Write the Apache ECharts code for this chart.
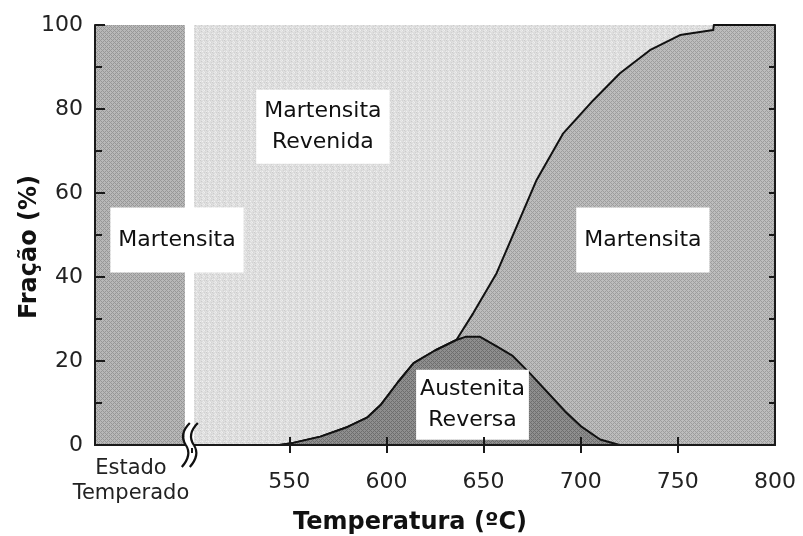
<!DOCTYPE html>
<html>
<head>
<meta charset="utf-8">
<script src="https://cdn.jsdelivr.net/npm/echarts@6/dist/echarts.min.js"></script>
<style>
  html, body { margin: 0; padding: 0; background: #fff; }
  #chart { width: 803px; height: 536px; }
</style>
</head>
<body>
<div id="chart"></div>
<script>
// Phase fractions (%) versus tempering temperature (ºC)
const temperedBand = [450, 496.3];      // "Estado Temperado" block (all martensite)
const revenidaBand = [501, 800];        // tempered martensite background
const fullFraction = 100;

// Reversed austenite
const austTemps  = [545, 552, 566, 580, 590, 597, 606, 614, 625, 636, 641, 648, 657, 665, 674, 683, 692, 700, 710, 720];
const austValues = [0, 0.5, 2, 4.3, 6.5, 9.5, 15, 19.5, 22.5, 25, 25.8, 25.8, 23.4, 21.2, 17, 12.5, 8, 4.5, 1.3, 0];

// Austenite + fresh martensite (upper boundary), above the austenite peak
const upperTemps  = [644.7, 656.7, 667, 677.3, 691, 706.5, 720.2, 735.6, 751.1, 768.2, 768.5, 800];
const upperValues = [31.4, 40.9, 52, 63.1, 74.2, 82.1, 88.5, 94, 97.6, 98.8, 100, 100];

const tickTemps = [550, 600, 650, 700, 750, 800];
const topTickTemps = [500, 550, 600, 650, 700, 750];
const breakTemp = 498.8;

const estadoLabel = { temp: 468.5, text: 'Estado\nTemperado' };

// Region labels
const regionLabels = [
  { name: 'Martensita', pos: [492.2, 48.8], pad: [17, 8] },
  { name: 'Martensita\nRevenida', pos: [567.3, 75.8], pad: [6, 8] },
  { name: 'Martensita', pos: [732.0, 48.8], pad: [17, 8] },
  { name: 'Austenita\nReversa', pos: [644.3, 9.6], pad: [4, 4] }
];

// Build series data
const austData = austTemps.map((t, i) => [t, austValues[i]]);
const upperData = austTemps
  .map((t, i) => [t, austValues[i]])
  .filter(p => p[0] <= 636)
  .concat(upperTemps.map((t, i) => [t, upperValues[i]]));

// Small pixel textures for the filled regions
function tile(size, base, marks) {
  const c = document.createElement('canvas');
  c.width = size; c.height = size;
  const g = c.getContext('2d');
  g.fillStyle = base;
  g.fillRect(0, 0, size, size);
  marks.forEach(([x, y, col]) => { g.fillStyle = col; g.fillRect(x, y, 1, 1); });
  return { image: c, repeat: 'repeat' };
}
const hatchCells = [[0,0],[1,1],[2,2],[3,3],[1,3],[3,1]];
const leftHatch = tile(4, '#b8b8b8', hatchCells.map(p => [p[0], p[1], '#979797']));
const martHatch = tile(4, '#bdbdbd', hatchCells.map(p => [p[0], p[1], '#9d9d9d']));
const austHatch = tile(4, '#8f8f8f', hatchCells.map(p => [p[0], p[1], '#6e6e6e']));
const lightDots = tile(6, '#dedede', [
  [0,0,'#efefef'],[3,1,'#cbcbcb'],[1,2,'#d1d1d1'],[4,3,'#f1f1f1'],
  [2,4,'#cacaca'],[5,5,'#ececec'],[5,1,'#e9e9e9'],[0,4,'#d2d2d2'],
  [3,5,'#d4d4d4'],[1,0,'#d3d3d3'],[4,0,'#e9e9e9'],[2,3,'#ededed']
]);

const FONT = 'DejaVu Sans';
const axisColor = '#1a1a1a';

const chart = echarts.init(document.getElementById('chart'), null, { renderer: 'canvas' });

const option = {
  animation: false,
  backgroundColor: '#ffffff',
  grid: { left: 95, right: 28, top: 25, bottom: 91, containLabel: false, outerBoundsMode: 'none' },
  xAxis: [
    {
      type: 'value', min: 450, max: 800, interval: 50, position: 'bottom', z: 10,
      name: 'Temperatura (ºC)', nameLocation: 'middle', nameGap: 66, nameMoveOverlap: false,
      nameTextStyle: { fontFamily: FONT, fontWeight: 'bold', fontSize: 24, color: '#111', padding: [0, 50, 0, 0] },
      axisLine: { lineStyle: { color: axisColor, width: 2 } },
      axisTick: { inside: true, length: 8, customValues: tickTemps, lineStyle: { color: axisColor, width: 2 } },
      axisLabel: { customValues: tickTemps, margin: 26, fontFamily: FONT, fontSize: 22, color: '#222' },
      splitLine: { show: false }
    },
    {
      type: 'value', min: 450, max: 800, interval: 50, position: 'top', z: 10,
      axisLine: { lineStyle: { color: axisColor, width: 2 } },
      axisTick: { inside: true, length: 8, customValues: topTickTemps, lineStyle: { color: axisColor, width: 2 } },
      axisLabel: { show: false },
      splitLine: { show: false }
    }
  ],
  yAxis: [
    {
      type: 'value', min: 0, max: 100, interval: 20, position: 'left', z: 10,
      name: 'Fração (%)', nameLocation: 'middle', nameGap: 53, nameMoveOverlap: false,
      nameTextStyle: { fontFamily: FONT, fontWeight: 'bold', fontSize: 24, color: '#111', padding: [0, 24, 0, 0] },
      axisLine: { lineStyle: { color: axisColor, width: 2 } },
      axisTick: { inside: true, length: 10, lineStyle: { color: axisColor, width: 2 } },
      minorTick: { show: true, splitNumber: 2, length: 7, lineStyle: { color: axisColor, width: 2 } },
      axisLabel: { margin: 12, fontFamily: FONT, fontSize: 22, color: '#222' },
      splitLine: { show: false }
    },
    {
      type: 'value', min: 0, max: 100, interval: 20, position: 'right', z: 10,
      axisLine: { lineStyle: { color: axisColor, width: 2 } },
      axisTick: { inside: true, length: 6, lineStyle: { color: axisColor, width: 2 } },
      minorTick: { show: true, splitNumber: 2, length: 6, lineStyle: { color: axisColor, width: 2 } },
      axisLabel: { show: false },
      splitLine: { show: false }
    }
  ],
  series: [
    {
      name: 'Martensita Revenida', type: 'line', z: 1, symbol: 'none',
      data: revenidaBand.map(t => [t, fullFraction]),
      lineStyle: { width: 0 },
      areaStyle: { color: lightDots, opacity: 1 }
    },
    {
      name: 'Estado Temperado', type: 'line', z: 1, symbol: 'none',
      data: temperedBand.map(t => [t, fullFraction]),
      lineStyle: { width: 0 },
      areaStyle: { color: leftHatch, opacity: 1 }
    },
    {
      name: 'Martensita', type: 'line', z: 2, symbol: 'none',
      data: upperData,
      lineStyle: { color: '#111', width: 2, join: 'round' },
      areaStyle: { color: martHatch, opacity: 1 }
    },
    {
      name: 'Austenita Reversa', type: 'line', z: 3, symbol: 'none',
      data: austData,
      lineStyle: { color: '#111', width: 2, join: 'round' },
      areaStyle: { color: austHatch, opacity: 1 }
    },
    {
      name: 'rotulos', type: 'scatter', z: 6, symbolSize: 0, clip: false, silent: true,
      itemStyle: { opacity: 1 },
      data: regionLabels.map(l => ({
        value: l.pos,
        label: {
          show: true, position: 'inside', formatter: l.name, opacity: 1,
          backgroundColor: '#ffffff', padding: l.pad,
          fontFamily: FONT, fontSize: 22, lineHeight: 31, color: '#111', align: 'center'
        }
      })).concat([{
        value: [estadoLabel.temp, 0],
        label: {
          show: true, position: 'bottom', distance: 11, formatter: estadoLabel.text, opacity: 1,
          fontFamily: FONT, fontSize: 21, lineHeight: 25, color: '#222', align: 'center'
        }
      }])
    }
  ]
};

chart.setOption(option);

// Axis break mark between the tempered state and the temperature scale
const bp = chart.convertToPixel({ gridIndex: 0 }, [breakTemp, 0]);
function wave(x, y) {
  const s = { stroke: '#111', lineWidth: 2.2, fill: null };
  return [
    { type: 'bezierCurve', z: 101, style: s,
      shape: { x1: x + 4, y1: y - 22, cpx1: x - 4, cpy1: y - 14, cpx2: x - 4, cpy2: y - 6, x2: x, y2: y } },
    { type: 'bezierCurve', z: 101, style: s,
      shape: { x1: x, y1: y, cpx1: x + 4, cpy1: y + 6, cpx2: x + 3, cpy2: y + 14, x2: x - 4, y2: y + 22 } }
  ];
}
chart.setOption({
  graphic: [
    { type: 'rect', z: 100, shape: { x: bp[0] - 4, y: bp[1] - 3, width: 8, height: 6 }, style: { fill: '#ffffff' } }
  ].concat(wave(bp[0] - 4, bp[1]), wave(bp[0] + 4, bp[1]))
});
</script>
</body>
</html>
